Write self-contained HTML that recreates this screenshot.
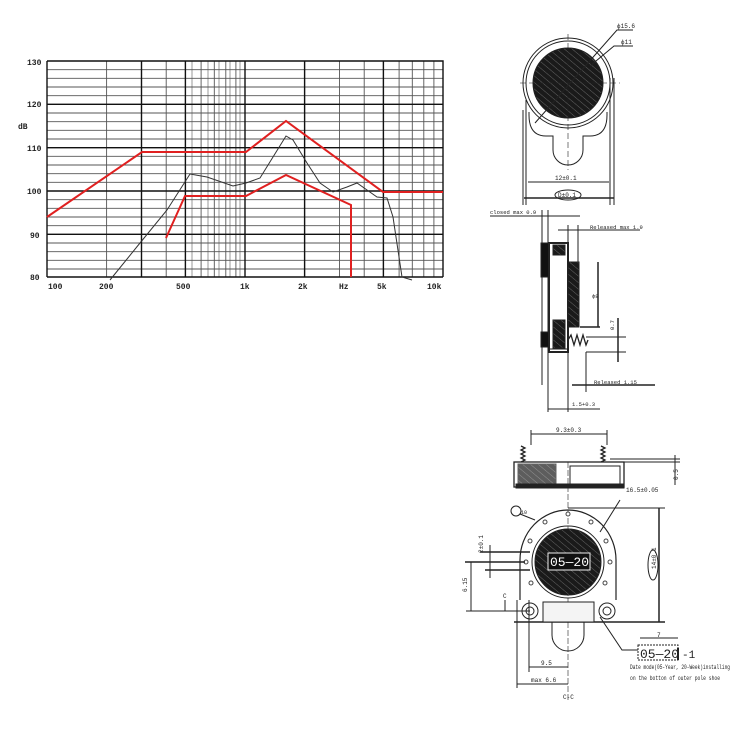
<!DOCTYPE html>
<html><head><meta charset="utf-8"><style>
html,body{margin:0;padding:0;background:#fff}
svg{display:block}
text{font-family:"Liberation Mono",monospace;fill:#222}
</style></head><body>
<svg width="743" height="743" viewBox="0 0 743 743" xmlns="http://www.w3.org/2000/svg">
<defs>
<pattern id="hatch" width="5" height="5" patternUnits="userSpaceOnUse" patternTransform="rotate(-50)">
<rect width="5" height="5" fill="#1a1a1a"/><line x1="0" y1="0" x2="0" y2="5" stroke="#777" stroke-width="0.8"/>
</pattern>
</defs>
<g stroke="#555" stroke-width="0.9" fill="none">
<path d="M47 61H443M47 69.7H443M47 78.3H443M47 87H443M47 95.7H443M47 104.3H443M47 113H443M47 121.7H443M47 130.3H443M47 139H443M47 147.7H443M47 156.3H443M47 165H443M47 173.7H443M47 182.3H443M47 191H443M47 199.7H443M47 208.3H443M47 217H443M47 225.7H443M47 234.3H443M47 243H443M47 251.7H443M47 260.3H443M47 269H443M47 277H443"/>
<path d="M47 61V277M106.6 61V277M141.5 61V277M166.2 61V277M185.4 61V277M201.1 61V277M214.3 61V277M225.8 61V277M235.9 61V277M245 61V277M304.6 61V277M339.5 61V277M364.2 61V277M383.4 61V277M399.1 61V277M412.3 61V277M423.8 61V277M433.9 61V277M443 61V277"/>
<path d="M192 61V277M208 61V277M219 61V277M230 61V277M240 61V277" stroke-width="0.6"/>
</g>
<g stroke="#111" stroke-width="1.4" fill="none">
<path d="M47 61V277M47 61H443V277M47 277H443M47 104.3H443M47 147.7H443M47 191H443M47 234.3H443"/>
<path d="M245 61V277M141.5 61V277M185.4 61V277M304.6 61V277M383.4 61V277"/>
</g>
<polyline fill="none" stroke="#e02020" stroke-width="2" points="47,217 142,152 246,152 286,121 383,192 443,192"/>
<polyline fill="none" stroke="#e02020" stroke-width="2" points="166,238 185,196 246,196 286,175 351,205 351,277"/>
<polyline fill="none" stroke="#333" stroke-width="1" points="110,280 140,243 167,210 190,174 207,177 233,186 246,183 260,178 273,157 286,136 293,140 307,163 320,183 333,192 347,187 357,183 367,190 377,197 387,198 393,217 402,277 412,280"/>
<g font-size="8" font-weight="bold">
<text x="27" y="65">130</text><text x="27" y="107">120</text><text x="18" y="129">dB</text>
<text x="27" y="151">110</text><text x="27" y="194">100</text><text x="30" y="238">90</text><text x="30" y="280">80</text>
<text x="48" y="289">100</text><text x="99" y="289">200</text><text x="176" y="289">500</text><text x="240" y="289">1k</text>
<text x="298" y="289">2k</text><text x="339" y="289">Hz</text><text x="377" y="289">5k</text><text x="427" y="289">10k</text>
</g>

<!-- top view -->
<g stroke="#222" fill="none" stroke-width="1">
<path d="M529 112 V115 Q529 136 546 136 H553 V150 A15 15 0 0 0 583 150 V136 H590 Q607 136 607 115 V112"/>
<circle cx="568" cy="83" r="45"/>
<circle cx="568" cy="83" r="42"/>
<circle cx="568" cy="83" r="35" fill="url(#hatch)"/>
<line x1="568" y1="34" x2="568" y2="170" stroke-dasharray="6 3" stroke-width="0.6"/>
<line x1="520" y1="83" x2="620" y2="83" stroke-dasharray="6 3" stroke-width="0.6"/>
<line x1="526" y1="100" x2="526" y2="205"/><line x1="610" y1="78" x2="610" y2="205"/>
<line x1="523" y1="110" x2="523" y2="205"/><line x1="614" y1="78" x2="614" y2="205"/>
<line x1="528" y1="182" x2="609" y2="182"/>
<line x1="524" y1="198" x2="614" y2="198" stroke-width="1.5"/>
<ellipse cx="568" cy="195" rx="13" ry="5"/>
<polyline points="535,123 617,30 633,30"/>
<polyline points="590,66 614,46 633,46"/>
</g>
<g font-size="6"><text x="617" y="28">ϕ15.6</text><text x="621" y="44">ϕ11</text><text x="555" y="180">12±0.1</text><text x="558" y="197">D±0.1</text></g>

<!-- side view -->
<g stroke="#222" fill="none" stroke-width="1">
<line x1="542" y1="210" x2="542" y2="385"/>
<line x1="548" y1="210" x2="548" y2="412"/>
<line x1="568" y1="225" x2="568" y2="412"/>
<line x1="490" y1="216" x2="580" y2="216"/>
<line x1="578" y1="225" x2="578" y2="262"/>
<line x1="558" y1="230" x2="640" y2="230"/>
<rect x="541" y="243" width="8" height="34" fill="#111"/>
<rect x="541" y="332" width="8" height="15" fill="#111"/>
<rect x="549" y="243" width="19" height="109" stroke-width="2"/>
<rect x="553" y="245" width="12" height="10" fill="url(#hatch)"/>
<rect x="553" y="320" width="12" height="28" fill="url(#hatch)"/>
<rect x="568" y="262" width="11" height="65" fill="url(#hatch)"/>
<line x1="598" y1="262" x2="598" y2="327" stroke-width="1.5"/>
<line x1="580" y1="327" x2="600" y2="327" stroke-width="1.5"/>
<path d="M568 340 l3 -5 l3 10 l3 -10 l3 10 l3 -10 l3 10 l2 -5" stroke-width="1.3"/>
<line x1="586" y1="337" x2="626" y2="337"/><line x1="586" y1="352" x2="626" y2="352"/>
<line x1="618" y1="318" x2="618" y2="362" stroke-width="1.5"/>
<line x1="586" y1="352" x2="586" y2="392"/>
<line x1="572" y1="385" x2="655" y2="385" stroke-width="1.5"/>
<line x1="548" y1="409" x2="600" y2="409"/>
<line x1="548" y1="349" x2="568" y2="349"/>
</g>
<g font-size="5.5"><text x="490" y="214">closed max 0.9</text><text x="590" y="229">Released max 1.9</text>
<text x="592" y="298">ϕ8</text><text x="594" y="384">Released  1.15</text><text x="572" y="406">1.5+0.3</text>
<text x="614" y="330" transform="rotate(-90 614 330)">0.7</text></g>

<!-- section view -->
<g stroke="#222" fill="none" stroke-width="1">
<line x1="531" y1="434" x2="607" y2="434"/>
<line x1="531" y1="430" x2="531" y2="445"/><line x1="607" y1="430" x2="607" y2="445"/>
<path d="M521 462 l4 -2 l-4 -2 l4 -2 l-4 -2 l4 -2 l-4 -2 l4 -2 l-4 -2" stroke-width="1.3"/>
<path d="M601 462 l4 -2 l-4 -2 l4 -2 l-4 -2 l4 -2 l-4 -2 l4 -2 l-4 -2" stroke-width="1.3"/>
<rect x="514" y="462" width="110" height="25" stroke-width="1.3"/>
<rect x="518" y="464" width="38" height="20" fill="url(#hatch)" opacity="0.7"/>
<rect x="570" y="466" width="50" height="18"/>
<rect x="516" y="484" width="108" height="4" fill="#222"/>
<line x1="568" y1="462" x2="568" y2="700" stroke-dasharray="6 2" stroke-width="0.6"/>
<line x1="610" y1="459" x2="680" y2="459"/><line x1="624" y1="462" x2="680" y2="462"/>
<line x1="675" y1="455" x2="675" y2="485"/>
</g>
<g font-size="6"><text x="626" y="492">16.5±0.05</text><text x="556" y="432">9.3±0.3</text>
<text x="678" y="480" transform="rotate(-90 678 480)">0.5</text></g>

<!-- front view -->
<g stroke="#222" fill="none" stroke-width="1">
<path d="M520 600 V560 A48 50 0 0 1 616 560 V600" stroke-width="1.2"/>
<line x1="514" y1="622" x2="665" y2="622" stroke-width="1.5"/>
<line x1="568" y1="508" x2="665" y2="508"/>
<line x1="659" y1="508" x2="659" y2="622" stroke-width="1.5"/>
<ellipse cx="653" cy="565" rx="5" ry="15" fill="#fff"/>
<rect x="543" y="602" width="51" height="20" fill="#f4f4f4"/>
<path d="M552 622 V635 A16 16 0 0 0 584 635 V622"/>
<circle cx="530" cy="611" r="8"/><circle cx="530" cy="611" r="4"/>
<circle cx="607" cy="611" r="8"/><circle cx="607" cy="611" r="4"/>
<circle cx="568" cy="562" r="36"/>
<circle cx="568" cy="562" r="33" fill="url(#hatch)"/>
<rect x="548" y="553" width="42" height="17" fill="#111" stroke="#eee"/>
<g fill="#fff" stroke="#444">
<circle cx="568" cy="514" r="2"/><circle cx="545" cy="522" r="2"/><circle cx="591" cy="522" r="2"/>
<circle cx="530" cy="541" r="2"/><circle cx="606" cy="541" r="2"/><circle cx="526" cy="562" r="2"/>
<circle cx="610" cy="562" r="2"/><circle cx="531" cy="583" r="2"/><circle cx="605" cy="583" r="2"/>
</g>
<circle cx="516" cy="511" r="5"/>
<line x1="520" y1="514" x2="535" y2="520"/>
<line x1="465" y1="562" x2="525" y2="562" stroke-width="1.5"/>
<line x1="480" y1="552" x2="530" y2="552" stroke-width="1.5"/>
<line x1="485" y1="570" x2="530" y2="570" stroke-width="1.5"/>
<line x1="490" y1="545" x2="490" y2="578"/>
<line x1="471" y1="562" x2="471" y2="611"/>
<line x1="466" y1="611" x2="530" y2="611"/>
<polyline points="505,600 505,611"/>
<line x1="529" y1="600" x2="529" y2="672"/>
<line x1="517" y1="600" x2="517" y2="688"/>
<line x1="529" y1="667" x2="568" y2="667"/>
<line x1="517" y1="684" x2="568" y2="684"/>
<polyline points="620,500 600,532"/>
<polyline points="600,617 622,650 638,650"/>
<rect x="638" y="645" width="40" height="15" stroke-dasharray="2 1"/>
<line x1="678" y1="648" x2="678" y2="660" stroke-width="2"/>
<line x1="640" y1="638" x2="678" y2="638"/>
</g>
<g font-size="6">
<text x="521" y="514" font-size="5">10</text>
<text x="483" y="553" transform="rotate(-90 483 553)">2±0.1</text>
<text x="467" y="592" transform="rotate(-90 467 592)">6.15</text>
<text x="503" y="598">C</text>
<text x="541" y="665">9.5</text><text x="531" y="682">max 6.6</text><text x="563" y="699">C-C</text>
<text x="656" y="569" transform="rotate(-90 656 569)">14±0.1</text>
<text x="657" y="637">7</text>
<text x="630" y="669" textLength="100" lengthAdjust="spacingAndGlyphs">Date mode(05-Year, 20-Week)installing</text>
<text x="630" y="680" textLength="90" lengthAdjust="spacingAndGlyphs">on the botton of outer pole shoe</text>
</g>
<text x="550" y="566" font-size="13" style="fill:#fff">05—20</text>
<text x="640" y="658" font-size="13">05—20</text><text x="682" y="658" font-size="11">-1</text>
</svg>
</body></html>
